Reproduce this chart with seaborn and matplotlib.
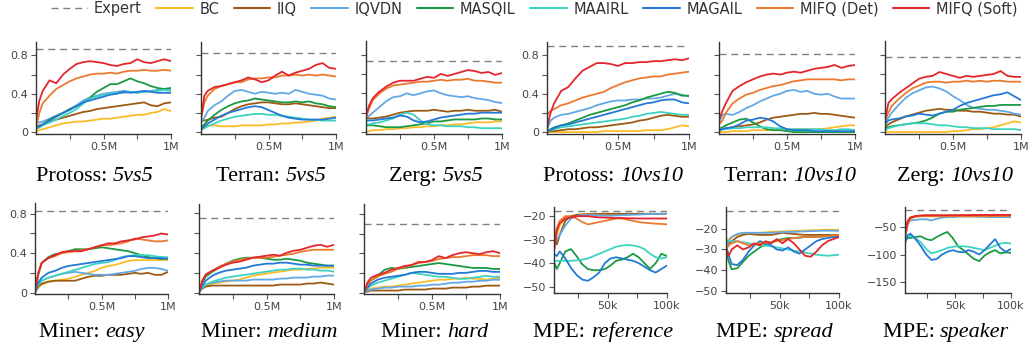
import matplotlib
matplotlib.use("Agg")
import matplotlib.pyplot as plt
from matplotlib.lines import Line2D
import seaborn as sns
import pandas as pd

# ---------------- data ----------------
METHODS = ["BC", "IIQ", "IQVDN", "MASQIL", "MAAIRL", "MAGAIL", "MIFQ (Det)", "MIFQ (Soft)"]
COLORS = ["#FBBC28", "#9C5B13", "#62A8E5", "#1A9A43", "#3ED3C0", "#2379D6", "#EB7A2F", "#E3262C"]

SMAC_STEPS = [0, 25000, 50000, 100000, 150000, 200000, 250000, 300000, 350000, 400000, 450000,
              500000, 550000, 600000, 650000, 700000, 750000, 800000, 850000, 900000, 950000, 1000000]
MPE_STEPS = [5000, 7400, 9800, 14500, 19250, 24000, 28750, 33500, 38250, 43000, 47750,
             52500, 57250, 62000, 66750, 71500, 76250, 81000, 85750, 90500, 95250, 100000]

PROTOSS_5V5 = {
    "BC": [0.0, 0.02, 0.03, 0.05, 0.07, 0.09, 0.10, 0.11, 0.11, 0.12, 0.13, 0.14, 0.14, 0.15, 0.16, 0.17, 0.18, 0.18, 0.20, 0.21, 0.24, 0.22],
    "IIQ": [0.06, 0.07, 0.08, 0.11, 0.13, 0.15, 0.17, 0.19, 0.21, 0.22, 0.24, 0.25, 0.26, 0.27, 0.28, 0.29, 0.30, 0.31, 0.28, 0.27, 0.30, 0.31],
    "IQVDN": [0.10, 0.10, 0.11, 0.14, 0.17, 0.20, 0.24, 0.28, 0.33, 0.36, 0.38, 0.40, 0.41, 0.42, 0.43, 0.42, 0.41, 0.42, 0.43, 0.44, 0.45, 0.45],
    "MASQIL": [0.03, 0.06, 0.08, 0.13, 0.17, 0.20, 0.24, 0.27, 0.30, 0.36, 0.42, 0.46, 0.50, 0.50, 0.53, 0.56, 0.53, 0.51, 0.48, 0.46, 0.45, 0.46],
    "MAAIRL": [0.03, 0.05, 0.07, 0.10, 0.13, 0.17, 0.20, 0.24, 0.30, 0.35, 0.37, 0.39, 0.40, 0.41, 0.41, 0.42, 0.41, 0.42, 0.43, 0.43, 0.44, 0.43],
    "MAGAIL": [0.04, 0.06, 0.08, 0.12, 0.16, 0.20, 0.23, 0.27, 0.31, 0.33, 0.35, 0.37, 0.39, 0.40, 0.42, 0.41, 0.42, 0.43, 0.42, 0.41, 0.41, 0.41],
    "MIFQ (Det)": [0.05, 0.20, 0.30, 0.38, 0.45, 0.49, 0.53, 0.56, 0.58, 0.60, 0.61, 0.61, 0.62, 0.61, 0.63, 0.64, 0.64, 0.65, 0.64, 0.64, 0.65, 0.64],
    "MIFQ (Soft)": [0.12, 0.33, 0.43, 0.54, 0.51, 0.60, 0.66, 0.71, 0.73, 0.74, 0.73, 0.72, 0.70, 0.69, 0.71, 0.72, 0.76, 0.73, 0.72, 0.74, 0.76, 0.74],
}
TERRAN_5V5 = {
    "BC": [0.06, 0.06, 0.07, 0.07, 0.06, 0.06, 0.06, 0.07, 0.07, 0.07, 0.07, 0.08, 0.08, 0.09, 0.09, 0.10, 0.10, 0.11, 0.12, 0.14, 0.15, 0.16],
    "IIQ": [0.12, 0.12, 0.13, 0.15, 0.16, 0.20, 0.24, 0.27, 0.29, 0.30, 0.31, 0.31, 0.30, 0.29, 0.29, 0.30, 0.29, 0.28, 0.27, 0.26, 0.25, 0.25],
    "IQVDN": [0.10, 0.15, 0.22, 0.28, 0.32, 0.38, 0.43, 0.44, 0.42, 0.40, 0.42, 0.41, 0.40, 0.41, 0.40, 0.44, 0.42, 0.40, 0.39, 0.38, 0.35, 0.34],
    "MASQIL": [0.05, 0.08, 0.12, 0.18, 0.23, 0.27, 0.30, 0.32, 0.33, 0.35, 0.34, 0.33, 0.32, 0.31, 0.31, 0.32, 0.31, 0.32, 0.30, 0.29, 0.27, 0.26],
    "MAAIRL": [0.02, 0.04, 0.06, 0.09, 0.12, 0.14, 0.16, 0.17, 0.18, 0.19, 0.19, 0.18, 0.18, 0.17, 0.16, 0.15, 0.14, 0.13, 0.13, 0.12, 0.12, 0.12],
    "MAGAIL": [0.03, 0.06, 0.09, 0.13, 0.17, 0.20, 0.22, 0.24, 0.26, 0.27, 0.26, 0.23, 0.20, 0.17, 0.15, 0.14, 0.13, 0.13, 0.13, 0.13, 0.14, 0.15],
    "MIFQ (Det)": [0.14, 0.31, 0.38, 0.45, 0.48, 0.50, 0.52, 0.52, 0.55, 0.56, 0.56, 0.57, 0.57, 0.59, 0.59, 0.60, 0.59, 0.60, 0.59, 0.60, 0.59, 0.58],
    "MIFQ (Soft)": [0.14, 0.38, 0.43, 0.47, 0.48, 0.50, 0.52, 0.54, 0.57, 0.55, 0.52, 0.54, 0.59, 0.63, 0.59, 0.62, 0.64, 0.66, 0.70, 0.72, 0.67, 0.66],
}
ZERG_5V5 = {
    "BC": [0.0, 0.01, 0.02, 0.02, 0.03, 0.03, 0.04, 0.04, 0.05, 0.05, 0.06, 0.06, 0.07, 0.07, 0.08, 0.08, 0.09, 0.10, 0.10, 0.10, 0.11, 0.11],
    "IIQ": [0.15, 0.14, 0.14, 0.15, 0.16, 0.18, 0.20, 0.21, 0.22, 0.22, 0.22, 0.23, 0.22, 0.21, 0.22, 0.22, 0.23, 0.22, 0.22, 0.22, 0.23, 0.21],
    "IQVDN": [0.15, 0.17, 0.20, 0.26, 0.32, 0.36, 0.37, 0.40, 0.38, 0.40, 0.42, 0.43, 0.40, 0.38, 0.37, 0.36, 0.37, 0.35, 0.34, 0.33, 0.31, 0.30],
    "MASQIL": [0.07, 0.07, 0.07, 0.06, 0.05, 0.05, 0.05, 0.06, 0.07, 0.08, 0.09, 0.11, 0.11, 0.12, 0.13, 0.13, 0.13, 0.13, 0.14, 0.14, 0.13, 0.13],
    "MAAIRL": [0.08, 0.08, 0.09, 0.10, 0.12, 0.14, 0.18, 0.20, 0.18, 0.12, 0.08, 0.07, 0.07, 0.06, 0.06, 0.06, 0.05, 0.05, 0.04, 0.04, 0.04, 0.04],
    "MAGAIL": [0.12, 0.12, 0.12, 0.13, 0.14, 0.15, 0.17, 0.16, 0.12, 0.10, 0.11, 0.13, 0.15, 0.16, 0.17, 0.18, 0.19, 0.19, 0.20, 0.20, 0.20, 0.20],
    "MIFQ (Det)": [0.15, 0.25, 0.33, 0.40, 0.45, 0.48, 0.49, 0.50, 0.51, 0.52, 0.52, 0.53, 0.54, 0.53, 0.54, 0.54, 0.55, 0.53, 0.53, 0.52, 0.51, 0.51],
    "MIFQ (Soft)": [0.18, 0.28, 0.35, 0.42, 0.47, 0.51, 0.53, 0.53, 0.53, 0.55, 0.57, 0.56, 0.60, 0.58, 0.60, 0.62, 0.64, 0.63, 0.61, 0.62, 0.59, 0.61],
}
PROTOSS_10V10 = {
    "BC": [0.0, 0.0, 0.0, 0.0, 0.0, 0.0, 0.0, 0.0, 0.0, 0.01, 0.01, 0.01, 0.01, 0.01, 0.01, 0.02, 0.02, 0.02, 0.03, 0.05, 0.07, 0.06],
    "IIQ": [0.0, 0.01, 0.01, 0.02, 0.03, 0.03, 0.04, 0.05, 0.05, 0.06, 0.07, 0.08, 0.09, 0.10, 0.12, 0.13, 0.15, 0.17, 0.18, 0.17, 0.16, 0.16],
    "IQVDN": [0.02, 0.12, 0.15, 0.18, 0.19, 0.21, 0.23, 0.25, 0.28, 0.30, 0.32, 0.33, 0.33, 0.34, 0.34, 0.35, 0.35, 0.36, 0.38, 0.40, 0.39, 0.37],
    "MASQIL": [0.01, 0.03, 0.05, 0.07, 0.09, 0.12, 0.15, 0.18, 0.20, 0.22, 0.24, 0.26, 0.28, 0.31, 0.33, 0.36, 0.38, 0.40, 0.42, 0.41, 0.38, 0.38],
    "MAAIRL": [0.01, 0.02, 0.03, 0.05, 0.06, 0.07, 0.08, 0.09, 0.10, 0.11, 0.12, 0.13, 0.14, 0.16, 0.17, 0.19, 0.20, 0.21, 0.20, 0.19, 0.18, 0.18],
    "MAGAIL": [0.01, 0.02, 0.04, 0.07, 0.08, 0.10, 0.12, 0.14, 0.16, 0.18, 0.20, 0.22, 0.24, 0.26, 0.28, 0.30, 0.31, 0.33, 0.34, 0.34, 0.31, 0.30],
    "MIFQ (Det)": [0.18, 0.22, 0.24, 0.28, 0.30, 0.33, 0.36, 0.38, 0.40, 0.42, 0.46, 0.49, 0.52, 0.54, 0.56, 0.57, 0.58, 0.58, 0.60, 0.61, 0.62, 0.63],
    "MIFQ (Soft)": [0.05, 0.20, 0.30, 0.43, 0.47, 0.56, 0.64, 0.68, 0.72, 0.72, 0.71, 0.69, 0.72, 0.72, 0.73, 0.73, 0.74, 0.74, 0.75, 0.76, 0.75, 0.77],
}
TERRAN_10V10 = {
    "BC": [0.0, 0.0, 0.0, 0.01, 0.01, 0.01, 0.02, 0.02, 0.02, 0.02, 0.02, 0.02, 0.03, 0.03, 0.03, 0.03, 0.03, 0.04, 0.05, 0.06, 0.07, 0.07],
    "IIQ": [0.02, 0.03, 0.04, 0.05, 0.06, 0.07, 0.08, 0.10, 0.13, 0.15, 0.16, 0.17, 0.18, 0.19, 0.19, 0.20, 0.19, 0.19, 0.18, 0.17, 0.16, 0.15],
    "IQVDN": [0.10, 0.18, 0.19, 0.18, 0.21, 0.25, 0.28, 0.32, 0.35, 0.38, 0.40, 0.43, 0.44, 0.42, 0.43, 0.40, 0.39, 0.40, 0.37, 0.35, 0.35, 0.35],
    "MASQIL": [0.03, 0.05, 0.07, 0.10, 0.13, 0.14, 0.10, 0.06, 0.03, 0.02, 0.02, 0.01, 0.0, 0.0, 0.0, 0.0, 0.0, 0.0, 0.0, 0.0, 0.0, 0.0],
    "MAAIRL": [0.02, 0.03, 0.03, 0.04, 0.04, 0.05, 0.05, 0.05, 0.05, 0.04, 0.04, 0.03, 0.03, 0.03, 0.03, 0.03, 0.03, 0.02, 0.02, 0.03, 0.03, 0.02],
    "MAGAIL": [0.02, 0.03, 0.04, 0.05, 0.08, 0.12, 0.13, 0.15, 0.14, 0.11, 0.06, 0.03, 0.02, 0.02, 0.02, 0.01, 0.01, 0.01, 0.01, 0.01, 0.01, 0.01],
    "MIFQ (Det)": [0.08, 0.12, 0.20, 0.30, 0.35, 0.39, 0.41, 0.44, 0.46, 0.48, 0.49, 0.51, 0.53, 0.54, 0.55, 0.55, 0.55, 0.55, 0.55, 0.54, 0.55, 0.55],
    "MIFQ (Soft)": [0.13, 0.22, 0.30, 0.43, 0.48, 0.52, 0.55, 0.58, 0.60, 0.61, 0.60, 0.62, 0.63, 0.62, 0.64, 0.66, 0.67, 0.68, 0.70, 0.67, 0.69, 0.70],
}
ZERG_10V10 = {
    "BC": [0.0, 0.0, 0.0, 0.0, 0.0, 0.0, 0.0, 0.0, 0.0, 0.0, 0.0, 0.01, 0.01, 0.02, 0.03, 0.03, 0.04, 0.05, 0.07, 0.09, 0.11, 0.10],
    "IIQ": [0.05, 0.08, 0.10, 0.13, 0.16, 0.18, 0.20, 0.22, 0.23, 0.24, 0.23, 0.23, 0.22, 0.22, 0.21, 0.21, 0.20, 0.19, 0.19, 0.18, 0.18, 0.16],
    "IQVDN": [0.10, 0.15, 0.20, 0.28, 0.35, 0.40, 0.43, 0.46, 0.47, 0.45, 0.42, 0.37, 0.33, 0.28, 0.25, 0.24, 0.23, 0.23, 0.22, 0.21, 0.19, 0.18],
    "MASQIL": [0.04, 0.05, 0.06, 0.07, 0.08, 0.09, 0.10, 0.12, 0.15, 0.19, 0.21, 0.21, 0.23, 0.24, 0.25, 0.26, 0.27, 0.27, 0.28, 0.28, 0.28, 0.28],
    "MAAIRL": [0.02, 0.04, 0.05, 0.07, 0.08, 0.09, 0.09, 0.09, 0.08, 0.07, 0.07, 0.06, 0.05, 0.05, 0.04, 0.04, 0.04, 0.03, 0.03, 0.03, 0.03, 0.02],
    "MAGAIL": [0.08, 0.12, 0.13, 0.14, 0.16, 0.17, 0.19, 0.18, 0.17, 0.19, 0.21, 0.23, 0.27, 0.30, 0.32, 0.34, 0.36, 0.38, 0.39, 0.41, 0.37, 0.33],
    "MIFQ (Det)": [0.12, 0.20, 0.27, 0.34, 0.40, 0.45, 0.48, 0.51, 0.52, 0.52, 0.51, 0.52, 0.52, 0.53, 0.52, 0.53, 0.52, 0.53, 0.53, 0.52, 0.52, 0.52],
    "MIFQ (Soft)": [0.12, 0.30, 0.34, 0.40, 0.45, 0.50, 0.55, 0.57, 0.58, 0.62, 0.60, 0.58, 0.56, 0.58, 0.57, 0.58, 0.59, 0.60, 0.63, 0.58, 0.57, 0.57],
}
MINER_EASY = {
    "BC": [0.0, 0.05, 0.08, 0.11, 0.12, 0.13, 0.14, 0.16, 0.18, 0.20, 0.22, 0.25, 0.27, 0.28, 0.30, 0.32, 0.33, 0.33, 0.33, 0.33, 0.33, 0.33],
    "IIQ": [0.0, 0.06, 0.09, 0.11, 0.12, 0.12, 0.12, 0.12, 0.14, 0.16, 0.17, 0.17, 0.18, 0.18, 0.18, 0.19, 0.20, 0.19, 0.20, 0.18, 0.18, 0.21],
    "IQVDN": [0.0, 0.08, 0.12, 0.15, 0.17, 0.19, 0.20, 0.21, 0.20, 0.19, 0.18, 0.18, 0.18, 0.19, 0.20, 0.21, 0.22, 0.24, 0.25, 0.25, 0.24, 0.22],
    "MASQIL": [0.0, 0.18, 0.30, 0.36, 0.39, 0.40, 0.42, 0.44, 0.44, 0.44, 0.45, 0.46, 0.45, 0.44, 0.43, 0.42, 0.40, 0.38, 0.36, 0.35, 0.34, 0.35],
    "MAAIRL": [0.0, 0.08, 0.12, 0.15, 0.17, 0.19, 0.21, 0.23, 0.25, 0.27, 0.29, 0.30, 0.31, 0.33, 0.36, 0.37, 0.38, 0.38, 0.38, 0.37, 0.36, 0.36],
    "MAGAIL": [0.0, 0.10, 0.15, 0.20, 0.22, 0.25, 0.27, 0.28, 0.29, 0.30, 0.31, 0.32, 0.33, 0.34, 0.35, 0.37, 0.37, 0.36, 0.35, 0.35, 0.35, 0.34],
    "MIFQ (Det)": [0.0, 0.20, 0.30, 0.35, 0.37, 0.40, 0.41, 0.42, 0.43, 0.44, 0.46, 0.48, 0.48, 0.49, 0.50, 0.52, 0.55, 0.54, 0.53, 0.52, 0.52, 0.53],
    "MIFQ (Soft)": [0.0, 0.20, 0.30, 0.35, 0.38, 0.41, 0.42, 0.42, 0.42, 0.44, 0.46, 0.48, 0.50, 0.50, 0.52, 0.53, 0.54, 0.56, 0.57, 0.58, 0.60, 0.59],
}
MINER_MEDIUM = {
    "BC": [0.03, 0.05, 0.07, 0.09, 0.10, 0.11, 0.12, 0.13, 0.15, 0.17, 0.18, 0.19, 0.20, 0.21, 0.22, 0.23, 0.23, 0.24, 0.24, 0.25, 0.25, 0.25],
    "IIQ": [0.0, 0.04, 0.06, 0.07, 0.07, 0.07, 0.07, 0.07, 0.07, 0.07, 0.07, 0.07, 0.07, 0.08, 0.08, 0.08, 0.08, 0.09, 0.09, 0.10, 0.09, 0.08],
    "IQVDN": [0.0, 0.05, 0.08, 0.10, 0.11, 0.12, 0.12, 0.12, 0.12, 0.13, 0.13, 0.13, 0.13, 0.14, 0.14, 0.15, 0.15, 0.15, 0.16, 0.16, 0.17, 0.17],
    "MASQIL": [0.0, 0.10, 0.16, 0.21, 0.25, 0.29, 0.32, 0.34, 0.35, 0.35, 0.35, 0.34, 0.33, 0.33, 0.34, 0.33, 0.32, 0.30, 0.29, 0.28, 0.27, 0.27],
    "MAAIRL": [0.0, 0.05, 0.08, 0.11, 0.13, 0.15, 0.16, 0.17, 0.18, 0.19, 0.20, 0.21, 0.22, 0.23, 0.23, 0.24, 0.24, 0.23, 0.23, 0.22, 0.22, 0.21],
    "MAGAIL": [0.0, 0.07, 0.12, 0.17, 0.20, 0.22, 0.23, 0.24, 0.25, 0.27, 0.28, 0.29, 0.29, 0.30, 0.30, 0.29, 0.28, 0.28, 0.27, 0.27, 0.27, 0.27],
    "MIFQ (Det)": [0.0, 0.12, 0.18, 0.22, 0.26, 0.29, 0.31, 0.33, 0.34, 0.35, 0.35, 0.35, 0.36, 0.37, 0.38, 0.39, 0.41, 0.42, 0.43, 0.43, 0.43, 0.43],
    "MIFQ (Soft)": [0.0, 0.12, 0.18, 0.22, 0.25, 0.28, 0.30, 0.31, 0.33, 0.35, 0.36, 0.37, 0.38, 0.37, 0.40, 0.42, 0.43, 0.45, 0.47, 0.48, 0.46, 0.48],
}
MINER_HARD = {
    "BC": [0.0, 0.02, 0.04, 0.05, 0.06, 0.06, 0.07, 0.08, 0.09, 0.10, 0.11, 0.12, 0.13, 0.13, 0.14, 0.14, 0.15, 0.14, 0.14, 0.13, 0.14, 0.15],
    "IIQ": [0.0, 0.01, 0.02, 0.02, 0.02, 0.02, 0.02, 0.03, 0.03, 0.03, 0.03, 0.04, 0.04, 0.04, 0.05, 0.05, 0.05, 0.06, 0.06, 0.07, 0.07, 0.07],
    "IQVDN": [0.0, 0.02, 0.03, 0.04, 0.05, 0.05, 0.06, 0.06, 0.06, 0.07, 0.07, 0.08, 0.08, 0.09, 0.10, 0.10, 0.11, 0.11, 0.12, 0.12, 0.13, 0.13],
    "MASQIL": [0.0, 0.08, 0.12, 0.17, 0.23, 0.25, 0.24, 0.25, 0.26, 0.27, 0.28, 0.29, 0.30, 0.29, 0.28, 0.27, 0.26, 0.25, 0.25, 0.25, 0.24, 0.24],
    "MAAIRL": [0.0, 0.04, 0.07, 0.10, 0.12, 0.14, 0.16, 0.18, 0.20, 0.19, 0.18, 0.17, 0.16, 0.16, 0.15, 0.14, 0.14, 0.15, 0.16, 0.17, 0.16, 0.16],
    "MAGAIL": [0.0, 0.05, 0.09, 0.13, 0.15, 0.16, 0.17, 0.18, 0.20, 0.21, 0.21, 0.20, 0.19, 0.19, 0.19, 0.20, 0.20, 0.21, 0.22, 0.22, 0.21, 0.21],
    "MIFQ (Det)": [0.0, 0.08, 0.12, 0.16, 0.19, 0.21, 0.24, 0.26, 0.28, 0.30, 0.31, 0.32, 0.34, 0.35, 0.36, 0.36, 0.37, 0.38, 0.38, 0.38, 0.37, 0.37],
    "MIFQ (Soft)": [0.0, 0.10, 0.15, 0.18, 0.20, 0.23, 0.25, 0.27, 0.28, 0.31, 0.31, 0.33, 0.37, 0.35, 0.38, 0.40, 0.41, 0.40, 0.39, 0.41, 0.42, 0.40],
}
MPE_REFERENCE = {
    "BC": [-33, -28, -24, -21, -20, -19.5, -19.2, -19.1, -19, -19, -19, -19, -19, -19, -19, -19, -19, -19, -19, -19, -19, -19],
    "IIQ": [-28, -32, -28, -22, -20, -19.5, -19.3, -19.2, -19.1, -19, -19, -19, -19, -19, -19, -19, -19, -19, -19, -19, -19, -19],
    "IQVDN": [-32, -30, -28, -24, -21, -20, -19.5, -19.5, -19.5, -19.6, -19.8, -19.8, -19.7, -19.6, -19.5, -19.4, -19.3, -19.2, -19.1, -19, -19, -19],
    "MASQIL": [-39.6, -42.5, -40, -35, -34, -37, -40.5, -42.5, -43, -43, -42.5, -41, -39, -38.5, -37.5, -36, -37.5, -40, -42.4, -40, -36, -37],
    "MAAIRL": [-39, -39, -39, -39, -39, -38.8, -38.5, -38, -37, -36, -35, -34, -33, -32.5, -32.3, -32.5, -33, -34, -36, -37.5, -38, -37.5],
    "MAGAIL": [-36, -37, -35, -38, -42, -45, -47, -47.5, -46, -44, -40, -38, -37.5, -38, -38.5, -39, -40, -41.5, -43, -44, -42.5, -41],
    "MIFQ (Det)": [-30, -25, -22, -20, -20, -21, -22.5, -23.5, -23, -22.5, -22, -21.5, -21, -21, -21.5, -22, -22.5, -22.8, -23, -23.2, -23.3, -23.5],
    "MIFQ (Soft)": [-35, -26, -23, -21, -20.5, -20, -20, -20, -20.3, -20.5, -20.6, -20.7, -20.8, -20.8, -20.9, -20.9, -21, -21, -21, -21, -21, -21],
}
MPE_SPREAD = {
    "BC": [-26, -25, -24, -23, -22.5, -22, -22, -22, -21.8, -21.5, -21.4, -21.3, -21.2, -21.1, -21, -20.9, -20.8, -20.7, -20.6, -20.5, -20.5, -20.5],
    "IIQ": [-28, -27, -26, -24, -23, -22.5, -22.8, -23, -23, -23, -22.5, -22, -22.3, -22.5, -22.8, -23, -23, -23, -23, -23, -23, -23],
    "IQVDN": [-28, -26, -24, -22.5, -22, -22, -22, -22, -22, -22, -21.8, -21.7, -21.6, -21.5, -21.4, -21.3, -21.2, -21.1, -21, -21, -21, -21],
    "MASQIL": [-31, -36, -39.5, -39, -36, -33, -31, -29, -27.5, -26.5, -25.5, -25, -24.5, -24.5, -24.3, -24, -24, -24, -23.8, -23.5, -23.5, -23.5],
    "MAAIRL": [-26, -26, -26, -26, -26.5, -27, -27.5, -28, -28.2, -28.5, -29, -29.5, -30, -30.5, -31, -31.5, -32, -32.5, -32.8, -33, -32.8, -32.5],
    "MAGAIL": [-28, -33, -37, -37.5, -35, -31, -28, -26, -27, -28, -30, -30.5, -29, -31, -32, -30, -28, -26, -25, -24.5, -24, -24],
    "MIFQ (Det)": [-30, -28, -27, -26, -27, -28, -27.5, -27, -26.8, -26.5, -26, -25.5, -25, -24.5, -24.2, -24, -24, -24, -23.8, -23.5, -23.2, -23],
    "MIFQ (Soft)": [-30, -33, -30, -28, -30, -29, -27, -28, -26, -27, -25, -27, -25, -27, -30, -33, -33.5, -31, -28, -26, -25, -24],
}
MPE_SPEAKER = {
    "BC": [-55, -38, -32, -30, -29.5, -29, -29, -29, -29, -29, -29, -28.8, -28.6, -28.5, -28.4, -28.3, -28.2, -28.1, -28, -28, -28, -28],
    "IIQ": [-60, -40, -33, -31, -30, -30, -30, -30, -30, -30, -30, -29.8, -29.6, -29.5, -29.4, -29.3, -29.2, -29.1, -29, -29, -29, -29],
    "IQVDN": [-70, -45, -38, -37, -36, -36, -38, -35, -33, -32, -32, -31, -31, -31, -31, -31.5, -31.5, -32, -32, -32, -32, -32],
    "MASQIL": [-75, -70, -70, -68, -67, -72, -74, -68, -63, -59, -70, -85, -92, -100, -108, -112, -102, -96, -92, -98, -96, -97],
    "MAAIRL": [-70, -68, -66, -70, -78, -90, -98, -95, -92, -88, -86, -85, -85, -86, -88, -90, -92, -88, -84, -80, -79, -80],
    "MAGAIL": [-80, -65, -62, -72, -85, -100, -110, -108, -100, -95, -92, -95, -96, -92, -95, -100, -92, -82, -72, -88, -95, -90],
    "MIFQ (Det)": [-70, -45, -35, -31, -30.5, -30.5, -30.5, -30.5, -30.5, -30.5, -30.5, -30.5, -30.5, -30.5, -30.5, -30.5, -30.5, -30.5, -30.3, -30.2, -30.1, -30],
    "MIFQ (Soft)": [-65, -40, -33, -30, -29, -28.5, -28.5, -28.5, -28.5, -28.5, -28.5, -28.5, -28.5, -28.3, -28.2, -28.1, -28, -28, -28, -28, -28, -28],
}

PANELS = [PROTOSS_5V5, TERRAN_5V5, ZERG_5V5, PROTOSS_10V10, TERRAN_10V10, ZERG_10V10,
          MINER_EASY, MINER_MEDIUM, MINER_HARD, MPE_REFERENCE, MPE_SPREAD, MPE_SPEAKER]
EXPERT = [0.87, 0.82, 0.73, 0.90, 0.81, 0.77, 0.83, 0.75, 0.70, -17.7, -11.3, -18.5]
TITLE_ENV = ["Protoss: ", "Terran: ", "Zerg: ", "Protoss: ", "Terran: ", "Zerg: ",
             "Miner: ", "Miner: ", "Miner: ", "MPE: ", "MPE: ", "MPE: "]
TITLE_TASK = ["5vs5", "5vs5", "5vs5", "10vs10", "10vs10", "10vs10",
              "easy", "medium", "hard", "reference", "spread", "speaker"]
SMAC_YTICKS = [0, 0.2, 0.4, 0.6, 0.8]
SMAC_YLABELS = ["0", "", "0.4", "", "0.8"]
MPE_YTICKS = [[-20, -30, -40, -50], [-20, -30, -40, -50], [-50, -100, -150]]

# ---------------- layout (pixels) ----------------
W, H = 1035, 354
AX_BOX = [(36, 42, 171, 134), (201, 42, 336, 134), (366, 41, 502, 134),
          (547, 42, 689, 134), (719, 42, 855, 134), (885, 41, 1021, 134),
          (35, 203, 168, 294), (199, 204, 334, 294), (364, 204, 500, 294),
          (554, 207, 667, 293), (726, 207, 839, 293), (905, 207, 1011, 293)]
TITLE_POS = [(95, 181), (271, 181), (436, 181), (613, 181), (790, 181), (955, 181),
             (92, 337), (269, 337), (435, 337), (603, 337), (775, 337), (946, 337)]
YLIMS = [(-0.02, 0.94)] * 6 + [(-0.015, 0.91), (-0.015, 0.89), (-0.015, 0.90)] + \
        [(-52.7, -16.1), (-50.9, -9.6), (-170, -13.6)]
LABELED = [True, False, False, True, False, False, True, False, False, True, True, True]

sns.set_theme(style="ticks")
plt.rcParams["font.family"] = ["DejaVu Sans"]

palette = dict(zip(METHODS, COLORS))
fig = plt.figure(figsize=(W / 100, H / 100), dpi=100)
renderer = fig.canvas.get_renderer()

for i, data in enumerate(PANELS):
    l, t, r, b = AX_BOX[i]
    ax = fig.add_axes([l / W, 1 - b / H, (r - l) / W, (b - t) / H])
    steps = SMAC_STEPS if i < 9 else MPE_STEPS
    rows = [(s, m, v) for m in METHODS for s, v in zip(steps, data[m])]
    df = pd.DataFrame(rows, columns=["step", "method", "value"])
    sns.lineplot(data=df, x="step", y="value", hue="method", hue_order=METHODS,
                 palette=palette, ax=ax, legend=False, linewidth=1.3, estimator=None)
    ax.axhline(EXPERT[i], color="#808080", lw=1.0, ls=(0, (5, 3.5)), zorder=0.5)
    ax.set_ylim(*YLIMS[i])
    if i < 9:
        ax.set_xlim(0, 1000000)
        ax.set_xticks([250000, 500000, 750000, 1000000])
        ax.set_xticklabels(["", "0.5M", "", "1M"])
        ax.set_yticks(SMAC_YTICKS)
        ax.set_yticklabels(SMAC_YLABELS if LABELED[i] else [""] * 5)
    else:
        ax.set_xlim(5000, 100000)
        ax.set_xticks([25000, 50000, 75000, 100000])
        ax.set_xticklabels(["", "50k", "", "100k"])
        yt = MPE_YTICKS[i - 9]
        ax.set_yticks(yt)
        ax.set_yticklabels([f"\u2212{abs(v)}" for v in yt])
    ax.set_xlabel("")
    ax.set_ylabel("")
    for side in ["top", "right"]:
        ax.spines[side].set_visible(False)
    for side in ["left", "bottom"]:
        ax.spines[side].set_color("#333333")
        ax.spines[side].set_linewidth(1.0)
    ax.tick_params(direction="out", length=3.5, width=0.8, color="#555555",
                   labelsize=8, labelcolor="#444444", pad=2)

    # title: roman environment name + italic task name, centred as a unit
    cx, cy = TITLE_POS[i]
    t1 = fig.text(0, 1 - cy / H, TITLE_ENV[i], ha="left", va="baseline", fontsize=16,
                  family="Liberation Serif", color="black")
    t2 = fig.text(0, 1 - cy / H, TITLE_TASK[i], ha="left", va="baseline", fontsize=16,
                  family="Liberation Serif", style="italic", color="black")
    w1 = t1.get_window_extent(renderer).width
    w2 = t2.get_window_extent(renderer).width
    x0 = cx - (w1 + w2) / 2
    t1.set_x(x0 / W)
    t2.set_x((x0 + w1) / W)

handles = [Line2D([], [], color="#808080", lw=1.0, ls=(0, (5, 3.5)))] + \
          [Line2D([], [], color=c, lw=1.5) for c in COLORS]
labels = ["Expert"] + METHODS
fig.legend(handles, labels, loc="center", bbox_to_anchor=(534 / W, 1 - 9 / H), ncol=9,
           frameon=False, fontsize=10.5, handlelength=2.5, handletextpad=0.45,
           columnspacing=1.0, borderpad=0.1, labelcolor="#333333")

fig.savefig("out.png", dpi=100)
